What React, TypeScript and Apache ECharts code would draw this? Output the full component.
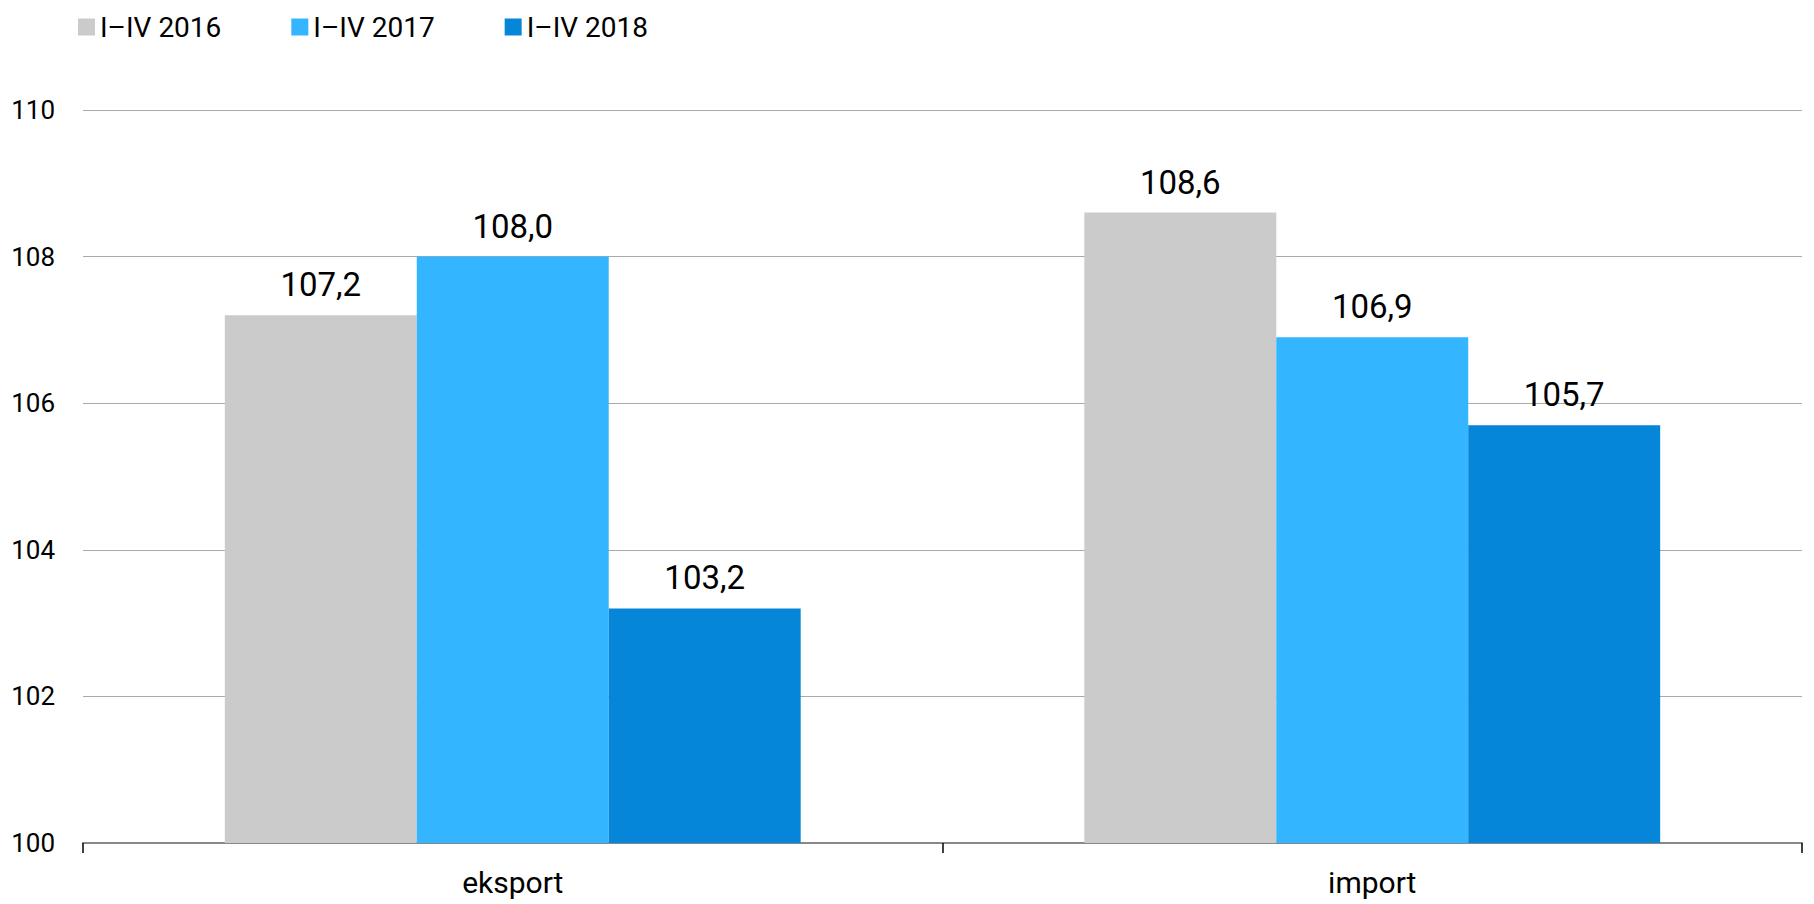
import React, { useEffect, useRef } from "react";
import * as echarts from "echarts";

const categories = ["eksport", "import"];
const seriesNames = ["I–IV 2016", "I–IV 2017", "I–IV 2018"];
const values2016 = [107.2, 108.6];
const values2017 = [108.0, 106.9];
const values2018 = [103.2, 105.7];
const colors = ["#CBCBCB", "#33B5FF", "#0686D8"];
const yMin = 100;
const yMax = 110;
const yInterval = 2;

const FONT = "Roboto, 'Noto Sans', sans-serif";

export default function App() {
  const ref = useRef<HTMLDivElement>(null);
  useEffect(() => {
    if (!ref.current) return;
    const chart = echarts.init(ref.current, undefined, { renderer: "svg" });
    const all = [values2016, values2017, values2018];
    chart.setOption({
      animation: false,
      textStyle: { fontFamily: FONT },
      legend: {
        left: 73,
        top: 8,
        itemWidth: 17,
        itemHeight: 17,
        itemGap: 70,
        icon: "rect",
        textStyle: { fontSize: 28, color: "#000", fontFamily: FONT },
        data: seriesNames,
      },
      grid: { left: 83, right: 12, top: 110, bottom: 61, containLabel: false },
      xAxis: {
        type: "category",
        data: categories,
        axisLine: { lineStyle: { color: "#888", width: 2 } },
        axisTick: { show: true, length: 10, lineStyle: { color: "#000", width: 1.5 } },
        axisLabel: { fontSize: 30, color: "#000", margin: 24, fontFamily: FONT },
      },
      yAxis: {
        type: "value",
        min: yMin,
        max: yMax,
        interval: yInterval,
        axisLine: { show: false },
        axisTick: { show: false },
        splitLine: { lineStyle: { color: "#aaa", width: 1 } },
        axisLabel: { fontSize: 26, color: "#000", margin: 28, fontFamily: FONT },
      },
      series: seriesNames.map((name, i) => ({
        name,
        type: "bar",
        data: all[i],
        barGap: "0%",
        barCategoryGap: "33%",
        itemStyle: { color: colors[i] },
        label: {
          show: true,
          position: "top",
          distance: 14,
          fontSize: 33,
          color: "#000",
          fontFamily: FONT,
          formatter: (p: any) => p.value.toFixed(1).replace(".", ","),
        },
      })),
    });
    return () => chart.dispose();
  }, []);
  return <div ref={ref} style={{ width: 1814, height: 904, position: "absolute", left: 0, top: 0 }} />;
}
